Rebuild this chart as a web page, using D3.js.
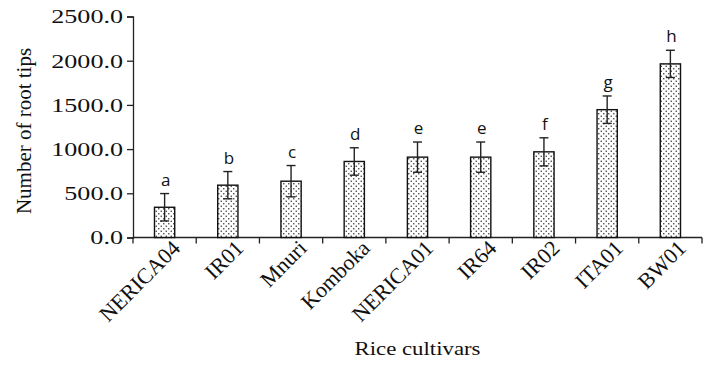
<!DOCTYPE html>
<html>
<head>
<meta charset="utf-8">
<script src="https://d3js.org/d3.v7.min.js"></script>
<style>
  body { margin: 0; background: #fff; }
  svg { display: block; }
</style>
</head>
<body>
<div id="chart"></div>
<script>
// root tip counts per cultivar, with sd and significance letters
const cultivars = ["NERICA04", "IR01", "Mnuri", "Komboka", "NERICA01", "IR64", "IR02", "ITA01", "BW01"];
const rootTips = [342, 592, 637, 860, 909, 909, 969, 1446, 1964];
const sdValues = [155, 154, 177, 155, 171, 171, 159, 155, 154];
const groupLetters = ["a", "b", "c", "d", "e", "e", "f", "g", "h"];
const yTicks = [0, 500, 1000, 1500, 2000, 2500];

const width = 710, height = 372;
const margin = { top: 16.5, right: 8, bottom: 134.5, left: 133 };
const serif = "'Liberation Serif', 'Times New Roman', serif";

const svg = d3.select("#chart").append("svg")
    .attr("width", width)
    .attr("height", height);

// dotted fill like the excel pattern
const pat = svg.append("defs").append("pattern")
    .attr("id", "dots")
    .attr("patternUnits", "userSpaceOnUse")
    .attr("width", 5).attr("height", 5);
pat.append("rect").attr("width", 5).attr("height", 5).attr("fill", "#fff");
pat.append("rect").attr("x", 0.6).attr("y", 0.6).attr("width", 1.3).attr("height", 1.3).attr("fill", "#333");
pat.append("rect").attr("x", 3.1).attr("y", 3.1).attr("width", 1.3).attr("height", 1.3).attr("fill", "#333");

const x = d3.scaleBand()
    .domain(cultivars)
    .range([margin.left, width - margin.right])
    .padding(0);

const y = d3.scaleLinear()
    .domain([0, 2500])
    .range([height - margin.bottom, margin.top]);

const data = cultivars.map((c, i) => ({ name: c, v: rootTips[i], sd: sdValues[i], letter: groupLetters[i] }));
const barW = x.bandwidth() * 0.32;

// y axis
const yAxis = svg.append("g")
    .attr("transform", "translate(" + margin.left + ",0)")
    .call(d3.axisLeft(y).tickValues(yTicks).tickSize(6).tickPadding(4).tickFormat(d3.format(".1f")));
yAxis.select(".domain").attr("stroke", "#222").attr("stroke-width", 1.3);
yAxis.selectAll(".tick line").attr("stroke", "#222").attr("stroke-width", 1.3);
yAxis.selectAll(".tick text")
    .attr("font-family", serif)
    .attr("font-size", 18)
    .attr("dy", "0.35em")
    .attr("fill", "#111")
    .each(function() {
        const w = this.getComputedTextLength();
        d3.select(this).attr("textLength", w * 1.45).attr("lengthAdjust", "spacingAndGlyphs");
    });

// x axis, ticks sit between the categories
const xAxisG = svg.append("g")
    .attr("transform", "translate(0," + y(0) + ")");
xAxisG.append("line")
    .attr("x1", margin.left).attr("x2", width - margin.right)
    .attr("stroke", "#222").attr("stroke-width", 1.3);
const bounds = cultivars.map(c => x(c)).concat([x(cultivars[cultivars.length - 1]) + x.bandwidth()]);
xAxisG.selectAll(".xt").data(bounds).enter().append("line")
    .attr("x1", d => d).attr("x2", d => d)
    .attr("y1", 0).attr("y2", 6)
    .attr("stroke", "#222").attr("stroke-width", 1.3);

xAxisG.selectAll(".lbl").data(cultivars).enter().append("text")
    .attr("transform", d => "translate(" + (x(d) + x.bandwidth() / 2 + 17) + ",12) rotate(-45)")
    .attr("text-anchor", "end")
    .attr("font-family", serif)
    .attr("font-size", 22)
    .attr("fill", "#111")
    .text(d => d);

// bars
svg.selectAll(".bar").data(data).enter().append("rect")
    .attr("class", "bar")
    .attr("x", d => x(d.name) + x.bandwidth() / 2 - barW / 2)
    .attr("y", d => y(d.v))
    .attr("width", barW)
    .attr("height", d => y(0) - y(d.v))
    .attr("fill", "url(#dots)")
    .attr("stroke", "#111")
    .attr("stroke-width", 1.4);

// error bars
const err = svg.selectAll(".err").data(data).enter().append("g")
    .attr("stroke", "#222").attr("stroke-width", 1.4);
err.append("line")
    .attr("x1", d => x(d.name) + x.bandwidth() / 2)
    .attr("x2", d => x(d.name) + x.bandwidth() / 2)
    .attr("y1", d => y(d.v - d.sd))
    .attr("y2", d => y(d.v + d.sd));
err.append("line")
    .attr("x1", d => x(d.name) + x.bandwidth() / 2 - 4.5)
    .attr("x2", d => x(d.name) + x.bandwidth() / 2 + 4.5)
    .attr("y1", d => y(d.v + d.sd))
    .attr("y2", d => y(d.v + d.sd));
err.append("line")
    .attr("x1", d => x(d.name) + x.bandwidth() / 2 - 4.5)
    .attr("x2", d => x(d.name) + x.bandwidth() / 2 + 4.5)
    .attr("y1", d => y(d.v - d.sd))
    .attr("y2", d => y(d.v - d.sd));

// letters
svg.selectAll(".letter").data(data).enter().append("text")
    .attr("x", d => x(d.name) + x.bandwidth() / 2 + 1)
    .attr("y", d => y(d.v + d.sd) - 8)
    .attr("text-anchor", "middle")
    .attr("font-family", "'Open Sans', 'Liberation Sans', sans-serif")
    .attr("font-size", 17)
    .attr("fill", "#111")
    .text(d => d.letter);

// axis titles
svg.append("text")
    .attr("transform", "translate(31," + ((y(0) + y(2500)) / 2 + 4) + ") rotate(-90)")
    .attr("text-anchor", "middle")
    .attr("font-family", serif)
    .attr("font-size", 21)
    .attr("fill", "#111")
    .text("Number of root tips");

const xt = svg.append("text")
    .attr("x", (margin.left + width - margin.right) / 2)
    .attr("y", 355)
    .attr("text-anchor", "middle")
    .attr("font-family", serif)
    .attr("font-size", 19)
    .attr("fill", "#111")
    .text("Rice cultivars");
xt.attr("textLength", xt.node().getComputedTextLength() * 1.2).attr("lengthAdjust", "spacingAndGlyphs");
</script>
</body>
</html>
